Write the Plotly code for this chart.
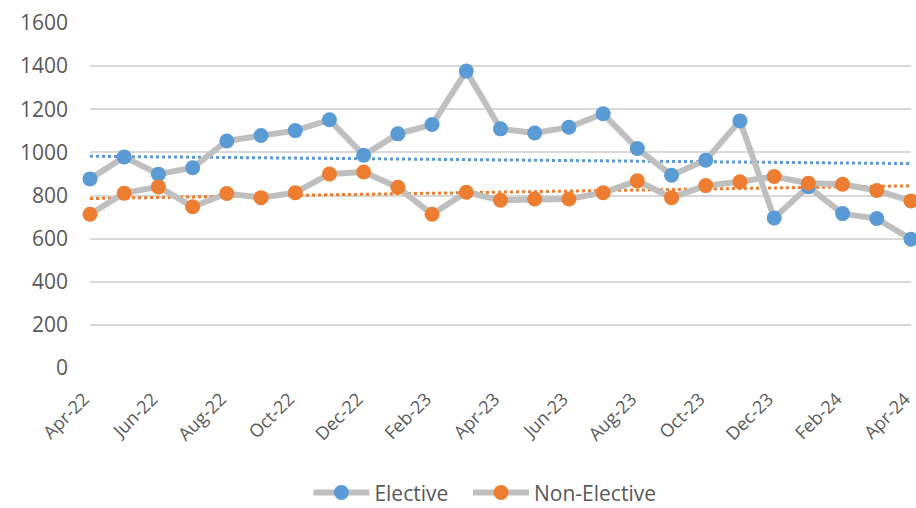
import plotly.graph_objects as go

months = ["Apr-22", "May-22", "Jun-22", "Jul-22", "Aug-22", "Sep-22", "Oct-22", "Nov-22",
          "Dec-22", "Jan-23", "Feb-23", "Mar-23", "Apr-23", "May-23", "Jun-23", "Jul-23",
          "Aug-23", "Sep-23", "Oct-23", "Nov-23", "Dec-23", "Jan-24", "Feb-24", "Mar-24",
          "Apr-24"]
elective = [877, 979, 899, 929, 1053, 1078, 1101, 1151, 987, 1086, 1129, 1377, 1109,
            1090, 1117, 1179, 1018, 894, 964, 1146, 696, 841, 716, 693, 597]
non_elective = [713, 811, 840, 748, 809, 790, 813, 900, 909, 838, 713, 815, 778,
                784, 784, 813, 868, 790, 846, 864, 888, 857, 852, 823, 775]
# linear trend end points (first month, last month)
elective_trend = [982, 948]
non_elective_trend = [786, 845]
y_ticks = [0, 200, 400, 600, 800, 1000, 1200, 1400, 1600]

BLUE = "#5B9BD5"
ORANGE = "#ED7D31"
GREY_LINE = "#BFBFBF"
TEXT = "#595959"
FONT = "Open Sans"

x = list(range(len(months)))
trend_x = [x[0], x[-1]]

fig = go.Figure()

# dotted trend lines, drawn under the series
for vals, col in [(elective_trend, BLUE), (non_elective_trend, ORANGE)]:
    fig.add_trace(go.Scatter(
        x=trend_x, y=vals, mode="lines",
        line=dict(color=col, width=3, dash="dot"),
        showlegend=False, hoverinfo="skip", cliponaxis=False,
    ))

# each series gets its own legend box so the two entries can be spaced freely
for name, vals, col, leg in [("Elective", elective, BLUE, "legend"),
                             ("Non-Elective", non_elective, ORANGE, "legend2")]:
    fig.add_trace(go.Scatter(
        x=x, y=vals, name=name, mode="lines+markers",
        line=dict(color=GREY_LINE, width=6),
        marker=dict(color=col, size=15, line=dict(width=0)),
        cliponaxis=False, legend=leg,
    ))

legend_style = dict(orientation="h", y=-0.362, yanchor="middle", xanchor="left",
                    font=dict(family=FONT, size=21, color=TEXT), itemwidth=56,
                    bgcolor="rgba(0,0,0,0)")

fig.update_layout(
    width=916, height=508,
    margin=dict(l=90, r=5, t=23, b=140, autoexpand=False),
    paper_bgcolor="white", plot_bgcolor="white",
    font=dict(family=FONT, color=TEXT, size=20),
    legend=dict(x=0.2660, **legend_style),
    legend2=dict(x=0.4604, **legend_style),
)
fig.update_xaxes(
    range=[0, len(months) - 1], automargin=False,
    tickmode="array", tickvals=x[::2], ticktext=months[::2],
    tickangle=-45, showgrid=False, zeroline=False, showline=False,
    ticks="", ticklabelstandoff=16, ticklabelshift=-6, ticklabeloverflow="allow",
    tickfont=dict(family=FONT, size=18, color=TEXT),
)
fig.update_yaxes(
    range=[0, 1600], tickmode="array", tickvals=y_ticks, automargin=False,
    showgrid=True, gridcolor="#D9D9D9", gridwidth=1.5, zeroline=False,
    ticks="", ticklabelstandoff=21, tickfont=dict(family=FONT, size=21, color=TEXT),
)

fig.write_html("out.html")
